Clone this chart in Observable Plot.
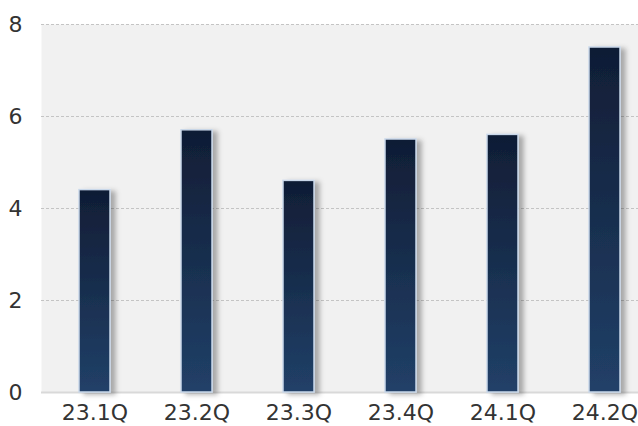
<!DOCTYPE html>
<html>
<head>
<meta charset="utf-8">
<script src="https://cdn.jsdelivr.net/npm/d3@7"></script>
<script src="https://cdn.jsdelivr.net/npm/@observablehq/plot@0.6"></script>
<style>
  html, body { margin: 0; padding: 0; background: #fff; }
  #chart { width: 638px; height: 426px; }
  svg text { font-family: "DejaVu Sans", sans-serif; font-size: 22px !important; }
</style>
</head>
<body>
<div id="chart"></div>
<script>
const quarters = ["23.1Q", "23.2Q", "23.3Q", "23.4Q", "24.1Q", "24.2Q"];
const values = [4.4, 5.7, 4.6, 5.5, 5.6, 7.5];
const yTicks = [0, 2, 4, 6, 8];
const gridTicks = [2, 4, 6, 8];

const data = quarters.map((q, i) => ({ q, v: values[i] }));

const plot = Plot.plot({
  width: 638,
  height: 426,
  marginLeft: 41,
  marginRight: 0,
  marginTop: 24,
  marginBottom: 34,
  style: { fontSize: "22px", color: "#333", background: "transparent", overflow: "visible" },
  x: { domain: quarters, paddingInner: 0.7, paddingOuter: 0.262, align: 0.67, label: null },
  y: { domain: [0, 8], label: null },
  marks: [
    Plot.frame({ fill: "#f1f1f1", stroke: null }),
    Plot.ruleY(gridTicks, { stroke: "#c4c4c4", strokeDasharray: "3,2", strokeWidth: 1 }),
    Plot.ruleY([0], { stroke: "#d9d9d9", strokeWidth: 2 }),
    Plot.barY(data, {
      x: "q", y: "v",
      fill: "url(#barGrad)",
      stroke: "#c9d8ea",
      strokeWidth: 1.5
    }),
    Plot.axisY({ ticks: yTicks, tickSize: 0, tickPadding: 19, fill: "#333" }),
    Plot.axisX({ tickSize: 0, tickPadding: 12, fill: "#333" })
  ]
});

const svg = d3.select(plot);
const defs = svg.insert("defs", ":first-child");
const g = defs.append("linearGradient").attr("id", "barGrad")
  .attr("x1", 0).attr("y1", 0).attr("x2", 0).attr("y2", 1);
g.append("stop").attr("offset", "0%").attr("stop-color", "#101d35");
g.append("stop").attr("offset", "100%").attr("stop-color", "#214068");
const f = defs.append("filter").attr("id", "shadow")
  .attr("x", "-20%").attr("y", "-10%").attr("width", "160%").attr("height", "130%");
f.append("feDropShadow").attr("dx", 5).attr("dy", 2).attr("stdDeviation", 2.5)
  .attr("flood-color", "#000").attr("flood-opacity", 0.3);
svg.selectAll("g[aria-label='bar'] rect").attr("filter", "url(#shadow)");

document.getElementById("chart").appendChild(plot);
</script>
</body>
</html>
